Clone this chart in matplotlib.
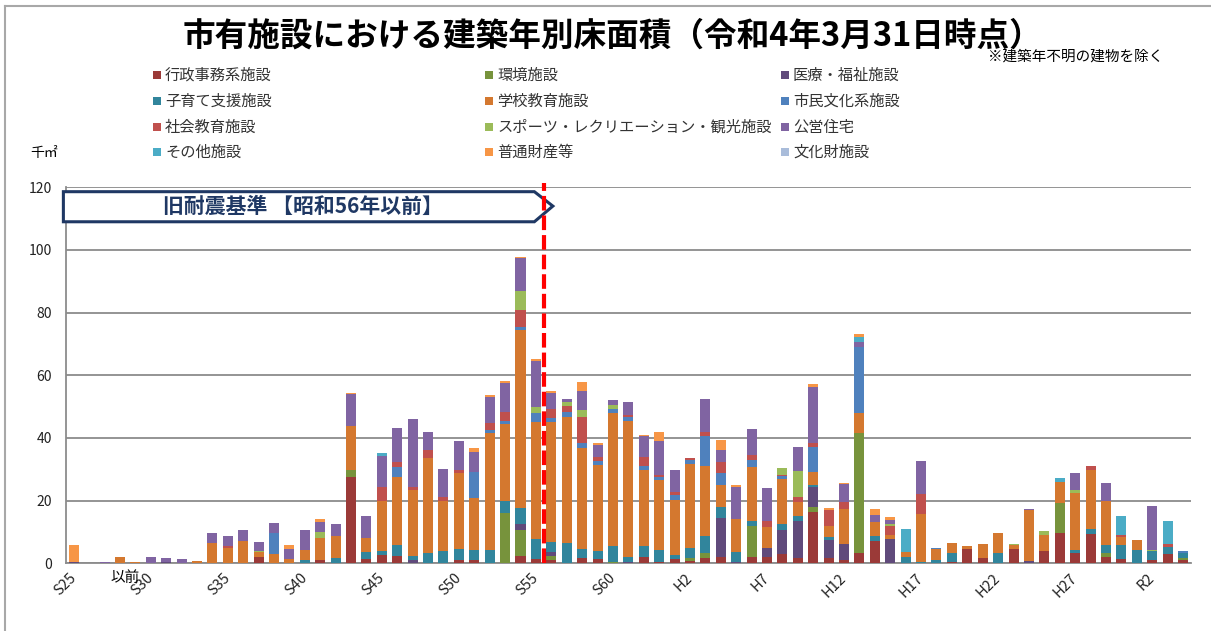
import matplotlib
matplotlib.use("Agg")
import matplotlib.pyplot as plt
import numpy as np
from matplotlib.patches import Polygon, Rectangle
from matplotlib.lines import Line2D

plt.rcParams['font.family'] = ['Noto Sans CJK JP', 'DejaVu Sans']

# 建築年 (S25 .. R4)
years = ["S25", "S26", "S27", "S28", "S29", "S30", "S31", "S32", "S33", "S34",
         "S35", "S36", "S37", "S38", "S39", "S40", "S41", "S42", "S43", "S44",
         "S45", "S46", "S47", "S48", "S49", "S50", "S51", "S52", "S53", "S54",
         "S55", "S56", "S57", "S58", "S59", "S60", "S61", "S62", "S63", "H1",
         "H2", "H3", "H4", "H5", "H6", "H7", "H8", "H9", "H10", "H11",
         "H12", "H13", "H14", "H15", "H16", "H17", "H18", "H19", "H20", "H21",
         "H22", "H23", "H24", "H25", "H26", "H27", "H28", "H29", "H30", "R1",
         "R2", "R3", "R4"]
shown_years = ["S25", "S30", "S35", "S40", "S45", "S50", "S55", "S60",
               "H2", "H7", "H12", "H17", "H22", "H27", "R2"]

# 千㎡
gyosei = [0, 0, 0, 0, 0, 0, 0, 0, 0, 0,
          0, 0, 1.9, 0, 0, 0, 0.9, 0, 27.4, 1.3,
          2.7, 2.3, 0, 0, 0, 0.9, 0.9, 0, 0, 2.3,
          1.3, 0.9, 0, 1.6, 1.5, 0, 0, 2.1, 0.5, 1.4,
          0.8, 1.6, 1.9, 0, 1.9, 1.9, 3.0, 1.6, 16.3, 1.6,
          0.9, 3.2, 7.1, 0, 0, 0, 0, 0.5, 4.5, 1.6,
          0, 4.5, 0, 4.0, 9.6, 3.4, 9.3, 2.1, 1.4, 0,
          0.9, 3.0, 1.1]
kankyo = [0, 0, 0, 0, 0, 0, 0, 0, 0, 0,
          0, 0, 0, 0, 0, 0, 0, 0, 2.3, 0,
          0, 0, 0, 0, 0, 0, 0, 0, 16.0, 8.3,
          0, 1.3, 0, 0, 0, 0.5, 0, 0, 0, 0,
          0.8, 1.6, 0, 0, 10.1, 0, 0, 0, 1.6, 0,
          0, 38.5, 0, 0, 0, 0, 0, 0, 0, 0,
          0, 0, 0, 0, 9.6, 0, 0, 1.1, 0, 0,
          0, 0, 0.5]
iryo = [0.4, 0, 0, 0, 0, 0.2, 0.5, 0, 0, 0,
        0, 0, 0, 0, 0, 0, 0, 0, 0, 0,
        0, 0, 0.9, 0, 0, 0, 0, 0, 0, 1.8,
        0, 1.4, 0, 0, 0, 0, 0.5, 0, 0, 0,
        0, 0, 12.7, 0.5, 0, 2.9, 7.7, 12.0, 6.3, 5.9,
        5.2, 0, 0, 7.7, 0, 0, 0, 0, 0, 0,
        0, 0, 0.7, 0, 0, 0, 0, 0, 0, 0,
        0, 0, 0]
kosodate = [0, 0, 0, 0, 0, 0, 0, 0, 0, 0,
            0, 0, 0, 0, 0, 0.9, 0, 1.7, 0, 2.4,
            1.1, 3.7, 1.3, 3.2, 4.0, 3.6, 3.4, 4.3, 3.9, 5.3,
            6.5, 3.1, 6.4, 2.9, 2.4, 5.0, 1.4, 3.4, 3.7, 1.3,
            3.4, 5.5, 3.5, 3.0, 1.6, 0, 1.8, 1.5, 0.9, 0.9,
            0, 0, 1.7, 0, 1.9, 0.5, 0.9, 2.7, 0, 0,
            3.4, 0, 0, 0, 0, 0.9, 1.6, 2.7, 4.3, 4.3,
            2.9, 2.1, 1.8]
gakko = [0, 0, 0, 1.9, 0.3, 0, 0, 0, 0.6, 6.6,
         4.9, 7.2, 1.7, 2.9, 1.3, 3.4, 7.1, 7.1, 14.1, 4.5,
         16.0, 21.4, 21.3, 30.3, 16.0, 24.3, 16.5, 37.2, 24.5, 56.7,
         37.4, 38.4, 40.2, 32.4, 27.4, 42.6, 43.6, 24.3, 22.3, 17.6,
         26.7, 22.4, 6.9, 10.6, 17.0, 6.9, 14.4, 4.6, 4.0, 3.4,
         11.3, 6.2, 4.3, 1.4, 1.8, 15.2, 3.6, 3.2, 1.1, 4.6,
         6.2, 1.4, 16.3, 4.9, 6.9, 18.1, 18.9, 14.1, 2.7, 3.0,
         0, 0, 0]
shimin = [0, 0, 0, 0, 0, 0, 0, 0, 0, 0,
          0, 0, 0, 6.7, 0, 0, 0, 0, 0, 0,
          0, 3.3, 0, 0, 0, 0, 8.2, 1.1, 1.1, 1.1,
          2.7, 1.3, 1.6, 1.4, 1.4, 1.1, 1.3, 1.4, 0.9, 1.4,
          1.3, 9.6, 3.7, 0, 2.3, 0, 0.9, 0, 8.0, 0,
          0, 21.0, 0, 0, 0, 0, 0.4, 0, 0, 0,
          0, 0, 0, 0, 0, 0, 0, 0, 0, 0,
          0, 0, 0.4]
shakai = [0, 0, 0, 0, 0, 0, 0, 0, 0, 0,
          0.6, 0, 0, 0, 0, 0, 0, 0, 0, 0,
          4.5, 1.7, 0.9, 2.7, 1.1, 1.1, 0, 2.1, 2.8, 5.3,
          0, 2.9, 2.1, 8.5, 1.3, 0, 0.5, 2.7, 0.7, 1.0,
          0.5, 1.3, 3.7, 0, 1.6, 1.8, 0.5, 1.4, 1.3, 5.3,
          2.1, 0, 0, 2.9, 0, 6.3, 0, 0, 0, 0,
          0, 0, 0, 0, 0, 0, 1.4, 0, 0.7, 0,
          0, 1.1, 0]
sports = [0, 0, 0, 0, 0, 0, 0, 0, 0, 0,
          0, 0, 0.4, 0, 0, 0, 1.9, 0, 0, 0,
          0, 0, 0, 0, 0, 0, 0, 0, 0, 6.2,
          2.1, 0, 1.1, 2.1, 0, 1.4, 0, 0, 0, 0,
          0, 0, 0, 0, 0, 0, 2.1, 8.2, 0, 0,
          0, 0, 0, 0.5, 0, 0, 0, 0, 0, 0,
          0, 0.3, 0, 1.5, 0, 1.1, 0, 0, 0, 0,
          0.5, 0, 0]
koei = [0, 0, 0.4, 0, 0.2, 1.9, 1.2, 1.3, 0, 3.0,
        3.2, 3.3, 2.8, 3.2, 3.3, 6.2, 3.4, 3.6, 10.3, 6.9,
        10.1, 10.9, 21.5, 5.7, 9.1, 9.1, 6.6, 8.3, 9.3, 10.3,
        14.5, 4.9, 0.9, 6.1, 3.8, 1.4, 4.1, 6.6, 10.9, 7.2,
        0, 10.4, 3.7, 10.3, 8.5, 10.4, 0, 7.7, 17.9, 0,
        5.7, 1.7, 2.3, 1.2, 0, 10.6, 0, 0, 0, 0,
        0, 0, 0.4, 0, 0, 5.3, 0, 5.7, 0, 0,
        14.1, 0, 0]
sonota = [0, 0, 0, 0, 0, 0, 0, 0, 0, 0,
          0, 0, 0, 0, 0, 0, 0, 0, 0, 0,
          0.8, 0, 0, 0, 0, 0, 0, 0, 0, 0,
          0, 0, 0, 0, 0, 0, 0, 0, 0, 0,
          0, 0, 0, 0, 0, 0, 0, 0, 0, 0,
          0, 1.5, 0, 0, 7.4, 0, 0, 0, 0, 0,
          0, 0, 0, 0, 1.0, 0, 0, 0, 5.9, 0,
          0, 7.3, 0]
futsu = [5.5, 0, 0, 0, 0, 0, 0, 0, 0, 0,
         0, 0, 0, 0, 1.4, 0, 0.9, 0, 0.2, 0,
         0, 0, 0, 0, 0, 0, 1.3, 0.7, 0.7, 0.3,
         0.7, 0.7, 0, 3.0, 0.6, 0, 0, 0.5, 2.8, 0,
         0, 0, 3.2, 0.7, 0, 0, 0, 0, 1.0, 0.7,
         0.5, 1.1, 1.9, 1.1, 0, 0, 0, 0, 0, 0,
         0, 0, 0, 0, 0, 0, 0, 0, 0, 0,
         0, 0, 0]
bunkazai = [0, 0, 0, 0, 0, 0, 0, 0, 0, 0,
            0, 0, 0, 0, 0, 0, 0, 0, 0, 0,
            0, 0, 0, 0, 0, 0, 0, 0, 0, 0,
            0, 0, 0, 0, 0, 0, 0, 0, 0, 0,
            0, 0, 0, 0, 0, 0, 0, 0, 0, 0,
            0, 0, 0, 0, 0, 0, 0, 0, 0, 0,
            0, 0, 0, 0, 0, 0, 0, 0, 0, 0,
            0, 0, 0]

names = ["行政事務系施設", "環境施設", "医療・福祉施設", "子育て支援施設",
         "学校教育施設", "市民文化系施設", "社会教育施設",
         "スポーツ・レクリエーション・観光施設", "公営住宅", "その他施設",
         "普通財産等", "文化財施設"]
series = [gyosei, kankyo, iryo, kosodate, gakko, shimin, shakai, sports,
          koei, sonota, futsu, bunkazai]
colors = ["#9B3A38", "#77933C", "#604A7B", "#31859C", "#D4782F", "#4F81BD",
          "#C0504D", "#9BBB59", "#8064A2", "#4BACC6", "#F79646", "#A9BCDA"]

W, H = 1211, 631
fig = plt.figure(figsize=(W / 100, H / 100), dpi=100)
ax = fig.add_axes([66 / W, (H - 563.3) / H, (1190.7 - 66) / W, (563.3 - 187.3) / H])

x = np.arange(len(years))
bottom = np.zeros(len(years))
for vals, c in zip(series, colors):
    v = np.array(vals, dtype=float)
    ax.bar(x, v, 0.65, bottom=bottom, color=c, linewidth=0, zorder=3)
    bottom += v

ax.set_xlim(-0.5, len(years) - 0.5)
ax.set_ylim(0, 120)
ax.set_yticks(range(0, 121, 20))
ax.yaxis.grid(True, color="#949494", lw=1.4)
ax.set_axisbelow(True)
for s in ["top", "right"]:
    ax.spines[s].set_visible(False)
ax.spines["left"].set_color("#8C8C8C")
ax.spines["left"].set_linewidth(1.3)
ax.spines["bottom"].set_color("#8C8C8C")
ax.spines["bottom"].set_linewidth(1.3)
ax.tick_params(axis="y", length=0, labelsize=10, labelcolor="#222222", pad=10)
ax.set_xticks([years.index(t) for t in shown_years])
ax.set_xticklabels(shown_years, rotation=45, ha="right", va="center",
                   rotation_mode="anchor", fontsize=10.5, color="#222222")
ax.tick_params(axis="x", length=0, pad=9)

# 旧耐震基準の矢印
arrow = Polygon([(-0.67, 118.6), (29.9, 118.6), (31.1, 114.0), (29.9, 109.0),
                 (-0.67, 109.0)], closed=True, facecolor="white",
                edgecolor="#1F3864", lw=2.2, zorder=4, clip_on=False)
ax.add_patch(arrow)
ax.text(14.9, 113.9, "旧耐震基準 【昭和56年以前】", ha="center", va="center",
        fontsize=15, fontweight="bold", color="#1F3864", zorder=5)
ax.plot([30.5, 30.5], [0, 121.3], color="#FF0000", lw=3, dashes=(3.5, 1.2),
        zorder=6, clip_on=False)

# タイトル・注記
fig.text(612 / W, 1 - 36 / H, "市有施設における建築年別床面積（令和4年3月31日時点）",
         ha="center", va="center", fontsize=23.5, fontweight="bold")
fig.text(988 / W, 1 - 57 / H, "※建築年不明の建物を除く", ha="left", va="center",
         fontsize=10.5)
fig.text(30 / W, 1 - 153 / H, "千㎡", ha="left", va="center", fontsize=10)
fig.text(125 / W, 1 - 578 / H, "以前", ha="center", va="center", fontsize=10.5)

# 凡例
col_x = [153, 485, 781]
row_y = [75, 101, 127, 152]
for i, (nm, c) in enumerate(zip(names, colors)):
    r, k = divmod(i, 3)
    mx, my = col_x[k], row_y[r]
    fig.add_artist(Rectangle((mx / W, 1 - (my + 4) / H), 8 / W, 8 / H,
                             transform=fig.transFigure, facecolor=c, lw=0))
    fig.text((mx + 12) / W, 1 - my / H, nm, ha="left", va="center",
             fontsize=11, color="#333333")

# 外枠
fig.add_artist(Line2D([5 / W, 1], [1 - 6 / H, 1 - 6 / H], transform=fig.transFigure,
                      color="#A8A8A8", lw=1.5))
fig.add_artist(Line2D([5 / W, 5 / W], [0, 1 - 6 / H], transform=fig.transFigure,
                      color="#A8A8A8", lw=1.5))

fig.savefig("out.png", dpi=100)
